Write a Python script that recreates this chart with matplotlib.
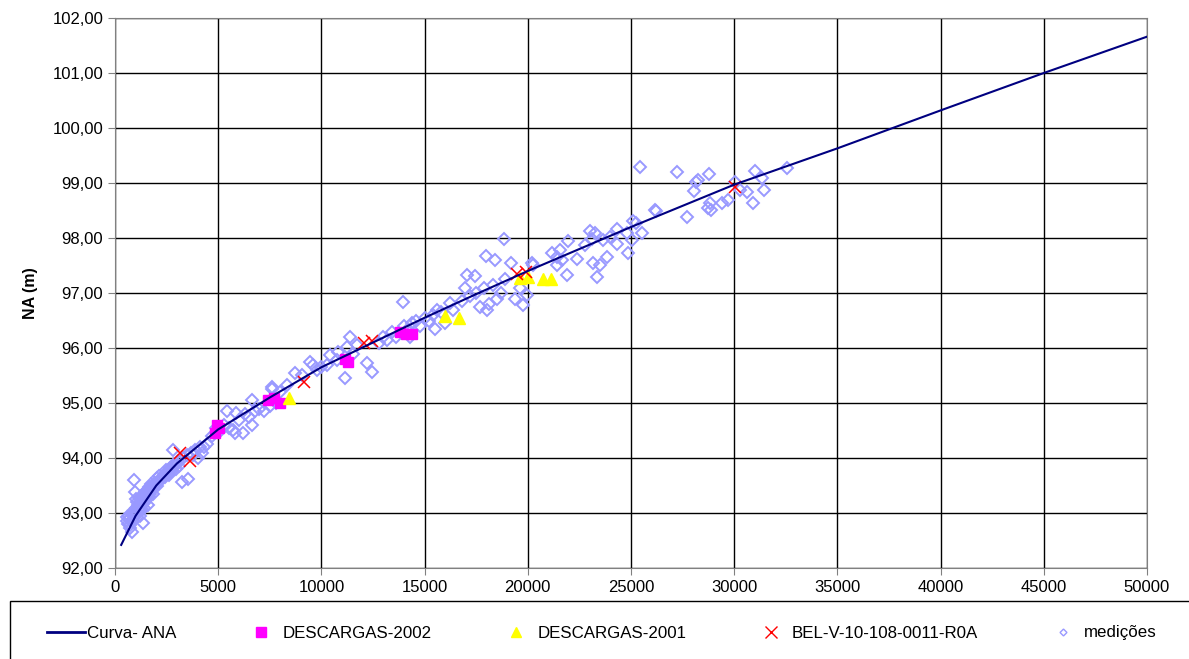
import matplotlib
matplotlib.use("Agg")
import matplotlib.pyplot as plt
from matplotlib.lines import Line2D
from matplotlib.patches import Rectangle
from matplotlib.ticker import FuncFormatter, MultipleLocator

plt.rcParams["font.family"] = ["Liberation Sans", "DejaVu Sans"]
plt.rcParams["font.size"] = 11.5

# Curva- ANA (cota x vazão)
curve_q = [300, 1000, 2000, 3000, 5000, 7500, 10000, 12500, 15000, 17500,
           20000, 25000, 30000, 35000, 40000, 45000, 50300]
curve_na = [92.42, 92.95, 93.50, 93.90, 94.52, 95.10, 95.65, 96.10, 96.55, 96.98,
            97.40, 98.20, 98.97, 99.63, 100.32, 101.00, 101.70]

# DESCARGAS-2002
d2002_q = [4850, 5050, 4950, 7400, 7700, 8000, 11150, 11300, 13800, 14100, 14400]
d2002_na = [94.45, 94.55, 94.60, 95.05, 95.10, 95.00, 95.80, 95.75, 96.30, 96.25, 96.25]

# DESCARGAS-2001
d2001_q = [8450, 16000, 16650, 19600, 20000, 20750, 21100]
d2001_na = [95.10, 96.58, 96.55, 97.28, 97.30, 97.25, 97.25]

# BEL-V-10-108-0011-R0A
bel_q = [3150, 3650, 9150, 12050, 12450, 19500, 19900, 30050]
bel_na = [94.10, 93.95, 95.38, 96.10, 96.12, 97.35, 97.38, 98.93]

# medições
med_q = [
    560, 650, 730, 810, 700, 800, 900, 950, 1000, 1100, 1150, 1200, 1250, 1300,
    1360, 1400, 1450, 1500, 1550, 1600, 1650, 1700, 1750, 1800, 1850, 1900, 920,
    970, 850, 1050, 1200, 1600, 1400, 1000,
    600, 700, 750, 850, 900, 1000, 1050, 1100, 1150, 1250, 1300, 1350, 1450,
    1500, 1550, 1650, 1700, 1750, 1850, 1950, 2050, 2150, 2250, 2400, 2450,
    2550, 2650, 2750, 2850, 2950, 3050,
    2020, 2100, 2200, 2350, 2500, 2600, 2700, 2826, 2900, 3000, 3100, 3230, 3550,
    3300, 3490, 3700, 3900, 4020, 4100, 4300, 4460, 4200, 3800, 2300,
    4700, 4900, 5100, 5410, 5860, 5810, 5300, 5500, 5730, 6220, 6620, 6000, 6300,
    6500, 6620, 6800,
    7000, 7200, 7500, 7600, 7800, 7590, 8320, 8720, 9040, 9450, 9610, 10250,
    10420, 10740, 10820, 11140, 11230, 11550, 11710, 12190, 12440, 8000, 9800,
    10000, 11400,
    12800, 13000, 13200, 13400, 13600, 13970, 14000, 14200, 14400, 14600, 14800,
    15000, 15200, 15400, 15600, 15800, 16230, 16000, 16400, 16800, 17040, 17440,
    16960, 14300, 15500,
    17200, 17500, 17700, 17900, 18100, 18300, 18500, 18700, 18900, 18850, 18400,
    19200, 17970, 19380, 19950, 19620, 19770, 18000,
    20190, 20270, 21150, 21560, 21400, 21960, 21880, 21400, 21640, 22370, 22770,
    23100, 23010, 23260, 23170, 23500, 23340, 23820, 23660, 23980, 24310, 24310,
    24790, 24870, 25030, 25110, 25240, 25520, 26160,
    25440, 27210, 28800, 28260, 28150, 28050, 26210, 27700, 28830, 28750, 28860,
    29390, 29720, 30040, 30280, 30640, 30890, 31010, 31330, 31440, 32540,
]
med_na = [
    92.93, 92.80, 92.73, 92.66, 92.90, 93.00, 93.05, 92.95, 93.10, 93.15, 93.05,
    93.20, 93.10, 93.25, 92.82, 93.30, 93.20, 93.35, 93.30, 93.40, 93.30, 93.45,
    93.40, 93.50, 93.35, 93.50, 93.60, 93.39, 92.85, 93.00, 92.95, 93.15, 93.10,
    93.25,
    92.85, 92.95, 92.78, 93.00, 92.92, 93.02, 93.20, 93.08, 93.28, 93.18, 93.05,
    93.30, 93.38, 93.25, 93.42, 93.48, 93.35, 93.52, 93.45, 93.55, 93.50, 93.68,
    93.62, 93.65, 93.78, 93.72, 93.82, 93.76, 93.90, 93.80, 93.95,
    93.63, 93.55, 93.60, 93.70, 93.75, 93.70, 93.80, 94.15, 93.85, 93.90, 93.85,
    93.57, 93.61, 94.00, 94.05, 94.10, 94.15, 94.00, 94.20, 94.20, 94.25, 94.10,
    94.05, 93.65,
    94.40, 94.55, 94.50, 94.86, 94.82, 94.45, 94.60, 94.55, 94.51, 94.45, 94.60,
    94.70, 94.80, 94.75, 95.05, 94.85,
    94.90, 94.85, 94.95, 95.25, 95.00, 95.30, 95.33, 95.54, 95.51, 95.75, 95.69,
    95.69, 95.87, 95.78, 95.93, 95.45, 96.02, 95.90, 96.05, 95.72, 95.57, 95.20,
    95.60, 95.65, 96.20,
    96.10, 96.20, 96.15, 96.30, 96.20, 96.83, 96.40, 96.35, 96.45, 96.50, 96.40,
    96.55, 96.50, 96.60, 96.70, 96.65, 96.81, 96.45, 96.70, 96.85, 97.33, 97.31,
    97.09, 96.20, 96.35,
    96.95, 97.00, 96.75, 97.10, 96.80, 97.15, 96.90, 97.00, 97.25, 97.98, 97.60,
    97.55, 97.67, 96.90, 96.96, 97.09, 96.78, 96.70,
    97.54, 97.51, 97.72, 97.78, 97.66, 97.95, 97.33, 97.51, 97.60, 97.61, 97.87,
    97.99, 98.13, 98.09, 97.54, 97.51, 97.30, 97.66, 97.96, 98.02, 98.16, 97.90,
    98.10, 97.72, 97.96, 98.31, 98.28, 98.10, 98.51,
    99.30, 99.20, 99.16, 99.05, 99.02, 98.86, 98.50, 98.38, 98.63, 98.54, 98.51,
    98.63, 98.70, 99.02, 98.87, 98.84, 98.64, 99.22, 99.09, 98.87, 99.27,
]

fig = plt.figure(figsize=(11.89, 6.59), dpi=100)
ax = fig.add_axes([115 / 1189, 1 - 568 / 659, 1032 / 1189, 550 / 659])

ax.plot(med_q, med_na, linestyle="none", marker="D", markersize=6,
        markerfacecolor="none", markeredgecolor="#9999FF", markeredgewidth=1.4,
        label="medições", zorder=3)
ax.plot(d2002_q, d2002_na, linestyle="none", marker="s", markersize=7,
        color="#FF00FF", label="DESCARGAS-2002", zorder=4)
ax.plot(d2001_q, d2001_na, linestyle="none", marker="^", markersize=9,
        color="#FFFF00", label="DESCARGAS-2001", zorder=4)
ax.plot(bel_q, bel_na, linestyle="none", marker="x", markersize=9,
        markeredgewidth=1.1, color="#FF0000", label="BEL-V-10-108-0011-R0A",
        zorder=5)
ax.plot(curve_q, curve_na, color="#000080", linewidth=1.5, label="Curva- ANA",
        zorder=6)

ax.set_xlim(0, 50000)
ax.set_ylim(92, 102)
ax.xaxis.set_major_locator(MultipleLocator(5000))
ax.yaxis.set_major_locator(MultipleLocator(1))
ax.yaxis.set_major_formatter(FuncFormatter(lambda v, p: f"{v:.2f}".replace(".", ",")))
ax.grid(True, color="black", linewidth=1.0)
ax.set_axisbelow(True)
for s in ax.spines.values():
    s.set_color("#808080")
ax.tick_params(direction="out", length=5, color="#808080", labelsize=12)
ax.set_ylabel("NA (m)", fontweight="bold", labelpad=10)

# legend box (runs off the page, like the original)
fig.patches.append(Rectangle((10 / 1189, -0.2), 1.2, 0.2 + 1 - 601 / 659,
                             transform=fig.transFigure, fill=False,
                             edgecolor="black", linewidth=1.0))

handles = [
    Line2D([], [], color="#000080", linewidth=2),
    Line2D([], [], linestyle="none", marker="s", markersize=7, color="#FF00FF"),
    Line2D([], [], linestyle="none", marker="^", markersize=7, color="#FFFF00"),
    Line2D([], [], linestyle="none", marker="x", markersize=8, color="#FF0000"),
    Line2D([], [], linestyle="none", marker="D", markersize=3.5,
           markerfacecolor="none", markeredgecolor="#9999FF"),
]
labels = ["Curva- ANA", "DESCARGAS-2002", "DESCARGAS-2001",
          "BEL-V-10-108-0011-R0A", "medições"]
fig.legend(handles, labels, loc="center", ncol=5, mode="expand",
           bbox_to_anchor=(32 / 1189, 1 - 645 / 659, 1140 / 1189, 24 / 659),
           frameon=False, handlelength=2.2, handletextpad=0.15,
           fontsize=12.2)

fig.savefig("out.png", dpi=100)
